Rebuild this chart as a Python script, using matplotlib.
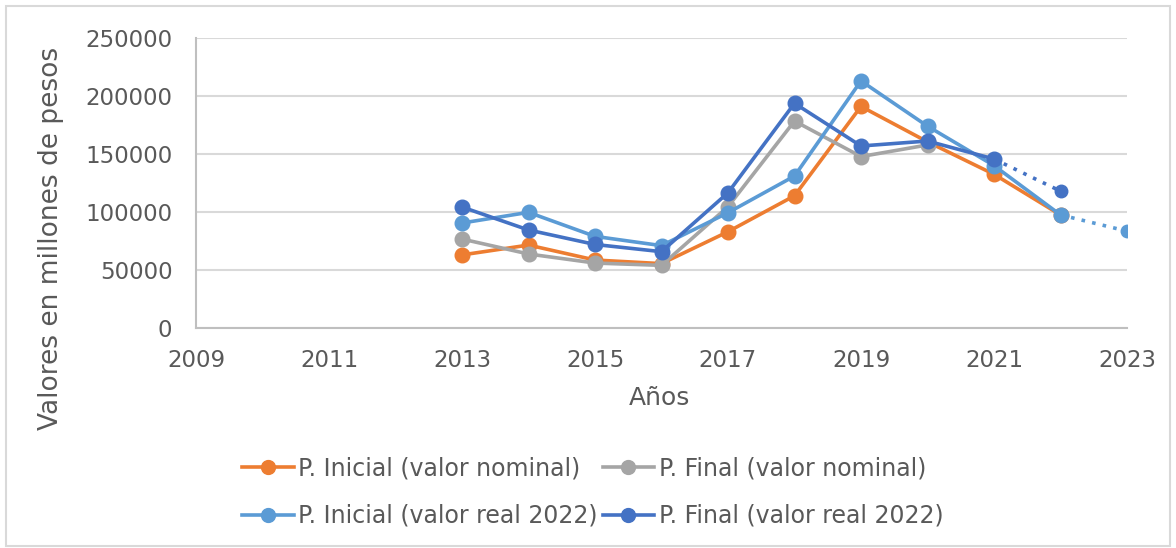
import numpy as np
import matplotlib.pyplot as plt
from matplotlib.patches import Rectangle

# Datos (millones de pesos)
years = [2013, 2014, 2015, 2016, 2017, 2018, 2019, 2020, 2021, 2022]
inicial_nominal = [63000, 71500, 58600, 55500, 83000, 114000, 191000, 160500, 132500, 97500]
final_nominal = [76700, 63800, 56000, 54000, 104600, 178400, 147800, 157800, np.nan, np.nan]
inicial_real = [90500, 99700, 79000, 71000, 99400, 131000, 213000, 174000, 140000, 97500]
final_real = [104300, 84500, 72000, 65800, 116600, 193700, 156900, 161200, 145700, np.nan]

# proyecciones (linea punteada)
inicial_real_proy_years = [2022, 2023]
inicial_real_proy = [97500, 83500]
final_real_proy_years = [2021, 2022]
final_real_proy = [145700, 118000]

c_orange = '#ED7D31'
c_gray = '#A5A5A5'
c_lblue = '#5B9BD5'
c_dblue = '#4472C4'
txt = '#595959'

plt.rcParams['font.family'] = ['DejaVu Sans']

fig = plt.figure(figsize=(11.76, 5.48), dpi=100)
ax = fig.add_axes([196 / 1176, 1 - 328 / 548, 931 / 1176, 290 / 548])

kw = dict(lw=2.6, marker='o', ms=10.5)
h1, = ax.plot(years, inicial_nominal, color=c_orange, **kw)
h2, = ax.plot(years, final_nominal, color=c_gray, **kw)
h3, = ax.plot(years, inicial_real, color=c_lblue, **kw)
h4, = ax.plot(years, final_real, color=c_dblue, **kw)
ax.plot(final_real_proy_years, final_real_proy, color=c_dblue, lw=2.6, ls=(0, (1, 2)),
        marker='o', ms=9, markevery=[1])
ax.plot(inicial_real_proy_years, inicial_real_proy, color=c_lblue, lw=2.6, ls=(0, (1, 2)),
        marker='o', ms=9, markevery=[1])

ax.set_xlim(2009, 2023)
ax.set_ylim(0, 250000)
ax.set_xticks(range(2009, 2024, 2))
ax.set_yticks(range(0, 250001, 50000))
ax.grid(axis='y', color='#D9D9D9', lw=1.5)
ax.set_axisbelow(True)
for s in ['top', 'right']:
    ax.spines[s].set_visible(False)
for s in ['left', 'bottom']:
    ax.spines[s].set_color('#BFBFBF')
    ax.spines[s].set_linewidth(1.5)
ax.tick_params(length=0, labelsize=16.5, labelcolor=txt)
ax.tick_params(axis='y', pad=17)
ax.tick_params(axis='x', pad=15)

ax.set_ylabel('Valores en millones de pesos', fontsize=19, color=txt)
ax.yaxis.set_label_coords(-0.142, 0.31)
ax.set_xlabel('Años', fontsize=18, color=txt)
ax.xaxis.set_label_coords(0.498, -0.2)

leg = fig.legend([h1, h3, h2, h4],
                 ['P. Inicial (valor nominal)', 'P. Inicial (valor real 2022)',
                  'P. Final (valor nominal)', 'P. Final (valor real 2022)'],
                 ncol=2, loc='center', bbox_to_anchor=(0.504, 0.102), frameon=False,
                 fontsize=17, handlelength=2.2, handletextpad=0.2, columnspacing=0.2,
                 labelspacing=1.0, markerscale=0.95)
for t in leg.get_texts():
    t.set_color(txt)

fig.patches.append(Rectangle((6 / 1176, 2 / 548), 1164 / 1176, 540 / 548,
                             transform=fig.transFigure, fill=False,
                             edgecolor='#D9D9D9', lw=1.5))

fig.savefig('out.png', dpi=100)
